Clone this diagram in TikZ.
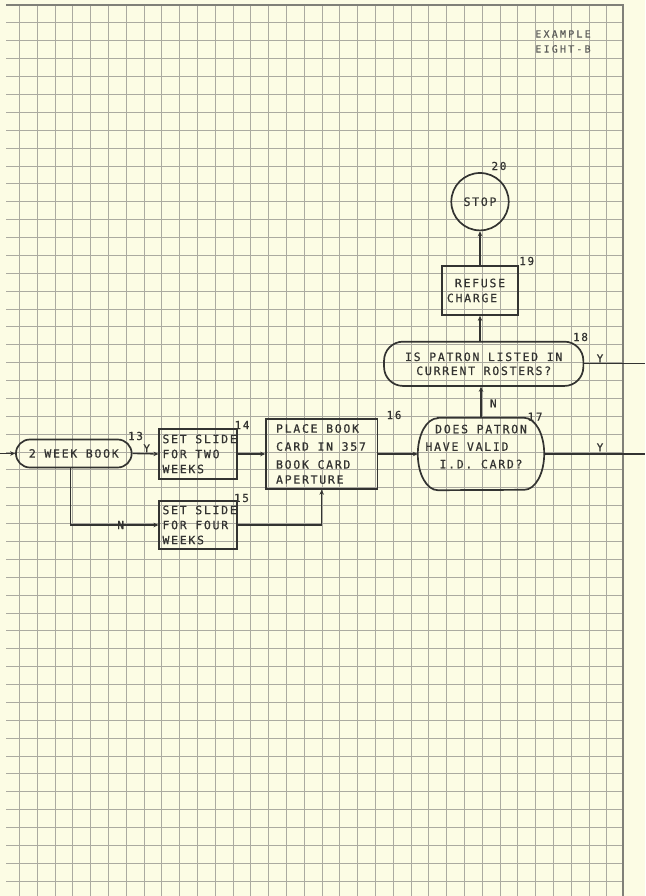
\documentclass[tikz,border=0pt]{standalone}
\usepackage{fontspec}
\usetikzlibrary{arrows.meta}
\newfontfamily\lettering[LetterSpace=15, FakeBold=0.6]{DejaVu Sans Mono}
\newfontfamily\smallletter[LetterSpace=22, FakeBold=0.4]{DejaVu Sans Mono}
\definecolor{Paper}{HTML}{FCFCE4}
\definecolor{GridGrey}{HTML}{ABAAA0}
\definecolor{Ink}{HTML}{333331}
\tikzset{
  gridline/.style={GridGrey, line width=0.8pt},
  widespace/.style={execute at begin node={\spaceskip=8.6pt\relax}},
  procbox/.style={draw=Ink, line width=1.7pt, text=Ink, inner xsep=3.2pt, align=left,
    font=\lettering\fontsize{11.5}{15}\selectfont, widespace},
  terminal/.style={draw=Ink, line width=1.7pt, text=Ink, align=center,
    font=\lettering\fontsize{11.5}{14}\selectfont, widespace},
  decision/.style={text=Ink, align=center, font=\lettering\fontsize{11.5}{17.5}\selectfont, widespace},
  outline/.style={draw=Ink, line width=1.7pt},
  flow/.style={draw=Ink, line width=1.3pt, -{Stealth[length=5pt,width=4.5pt]}},
  plain/.style={draw=Ink, line width=1.3pt},
  numlbl/.style={text=Ink, font=\lettering\fontsize{11}{13}\selectfont, inner sep=0pt},
  yn/.style={text=Ink, font=\lettering\fontsize{11}{13}\selectfont, inner sep=0pt}
}
\begin{document}
\begin{tikzpicture}[x=1pt, y=-1pt]
    \fill[Paper] (0,0) rectangle (645,896);
    \useasboundingbox (0,0) rectangle (645,896);

    % Grid paper
    \foreach \i in {0,...,33}
        \draw[gridline] ({19.3+17.8*\i},5) -- ({19.3+17.8*\i},896);
    \foreach \j in {1,...,49}
        \draw[gridline] (6,{5+17.88*\j}) -- (622.7,{5+17.88*\j});
    \draw[GridGrey!75!black, line width=1.6pt] (6,5) -- (622.7,5) -- (622.7,896);
    \node[text=Ink!80, align=left, font=\smallletter\fontsize{10}{15}\selectfont]
        (title) at (563,41.5) {EXAMPLE\\EIGHT-B};

    % Row 13 -- 16
    \node[terminal, minimum width=115.7pt, minimum height=28pt, rounded corners=14pt]
        (t13) at (73.8,453.5) {2~WEEK~BOOK};
    \node[procbox, text width=71pt, minimum height=50pt] (b14) at (198,454)
        {SET~SLIDE\\FOR~TWO\\WEEKS};
    \node[procbox, text width=71pt, minimum height=48.6pt] (b15) at (198,525)
        {SET~SLIDE\\FOR~FOUR\\WEEKS};
    \node[procbox, inner xsep=10pt, text width=91.3pt, minimum height=69.7pt,
        font=\lettering\fontsize{11.5}{18}\selectfont] (b16) at (321.7,454)
        {PLACE~BOOK\\CARD~IN~357\\BOOK~CARD\\[-3pt]APERTURE};

    % Decisions 17 and 18
    \node[decision, minimum width=126pt, minimum height=72pt, text depth=15pt] (d17) at (481,454)
        {DOES~PATRON\\\makebox[111pt][l]{HAVE~VALID}\\I.D.~CARD?};
    \draw[outline] ([xshift=20pt]d17.north west) -- ([xshift=-20pt]d17.north east)
        arc[start angle=90, end angle=-90, x radius=20pt, y radius=36pt]
        -- ([xshift=20pt]d17.south west)
        arc[start angle=270, end angle=90, x radius=20pt, y radius=36pt] -- cycle;
    \node[terminal, minimum width=199.3pt, minimum height=44.3pt, rounded corners=19pt]
        (d18) at (483.7,363.8) {IS~PATRON~LISTED~IN\\CURRENT~ROSTERS?};

    % Row 19 -- 20
    \node[procbox, align=center, minimum width=76.6pt, minimum height=49pt] (b19) at (480,290.5)
        {REFUSE\\CHARGE\hspace*{16pt}};
    \node[terminal, circle, minimum size=57.4pt, inner sep=0pt] (s20) at (480,201.7) {STOP};

    % Numbers
    \node[numlbl] (n13) at (135.5,436) {13};
    \node[numlbl] (n14) at (242,425) {14};
    \node[numlbl] (n15) at (241.5,498) {15};
    \node[numlbl] (n16) at (394,415) {16};
    \node[numlbl] (n17) at (535,416.7) {17};
    \node[numlbl] (n18) at (580.5,337) {18};
    \node[numlbl] (n19) at (526.7,261) {19};
    \node[numlbl] (n20) at (499,166) {20};

    % Connectors
    \coordinate (in13) at (0,453.5);
    \coordinate (out17) at (645,454);
    \coordinate (out18) at (645,363.8);
    \draw[flow] (in13) -- (t13.west);
    \draw[flow] (t13.east) -- (b14.west);
    \draw[flow] ([xshift=-3pt]t13.south) |- (b15.west);
    \draw[flow] (b14.east) -- (b16.west);
    \draw[flow] (b15.east) -| (b16.south);
    \draw[flow] (b16.east) -- (d17.west);
    \draw[plain] (d17.east) -- (out17);
    \draw[flow] (d17.north) -- (d17.north |- d18.south);
    \draw[plain] (d18.east) -- (out18);
    \draw[flow] (b19.south |- d18.north) -- (b19.south);
    \draw[flow] (b19.north) -- (s20.south);

    % Y and N
    \node[yn] (y13) at (146.7,448.3) {Y};
    \node[yn] (n13b) at (120.7,525) {N};
    \node[yn] (n17b) at (493.3,403.3) {N};
    \node[yn] (y17) at (600,447.3) {Y};
    \node[yn] (y18) at (600,358.3) {Y};
\end{tikzpicture}
\end{document}
